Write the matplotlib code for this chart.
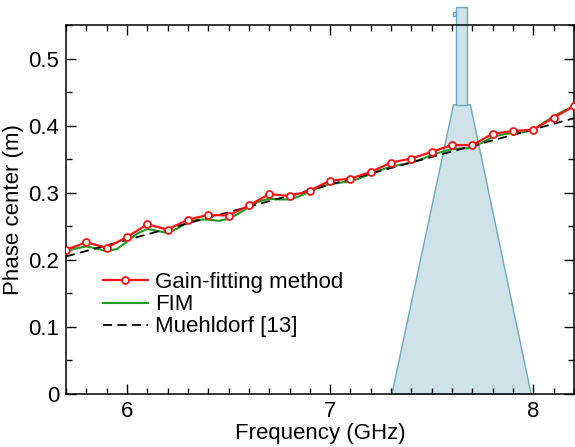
import matplotlib
matplotlib.use("Agg")
import matplotlib.pyplot as plt
from matplotlib.patches import Polygon
from matplotlib.ticker import MultipleLocator, FixedLocator

plt.rcParams['font.family'] = ['Liberation Sans', 'DejaVu Sans']

# Gain-fitting method (sampled every 0.1 GHz)
gain_freq = [5.7, 5.8, 5.9, 6.0, 6.1, 6.2, 6.3, 6.4, 6.5, 6.6, 6.7, 6.8, 6.9,
             7.0, 7.1, 7.2, 7.3, 7.4, 7.5, 7.6, 7.7, 7.8, 7.9, 8.0, 8.1, 8.2]
gain_pc = [0.215, 0.226, 0.218, 0.234, 0.253, 0.245, 0.260, 0.267, 0.266,
           0.281, 0.298, 0.295, 0.303, 0.318, 0.321, 0.331, 0.345, 0.351,
           0.361, 0.371, 0.371, 0.388, 0.392, 0.394, 0.412, 0.429]

# FIM (dense sampling)
fim_freq = [5.70, 5.75, 5.80, 5.85, 5.90, 5.95, 6.00, 6.05, 6.10, 6.15, 6.20,
            6.25, 6.30, 6.35, 6.40, 6.45, 6.50, 6.55, 6.60, 6.65, 6.70, 6.75,
            6.80, 6.85, 6.90, 6.95, 7.00, 7.05, 7.10, 7.15, 7.20, 7.25, 7.30,
            7.35, 7.40, 7.45, 7.50, 7.55, 7.60, 7.65, 7.70, 7.75, 7.80, 7.85,
            7.90, 7.95, 8.00, 8.05, 8.10, 8.15, 8.20]
fim_pc = [0.213, 0.217, 0.220, 0.217, 0.213, 0.216, 0.227, 0.239, 0.246,
          0.243, 0.240, 0.247, 0.256, 0.260, 0.260, 0.258, 0.261, 0.269,
          0.279, 0.287, 0.291, 0.290, 0.290, 0.295, 0.302, 0.308, 0.313,
          0.315, 0.317, 0.322, 0.328, 0.334, 0.339, 0.342, 0.345, 0.350,
          0.356, 0.361, 0.365, 0.366, 0.367, 0.375, 0.383, 0.387, 0.389,
          0.390, 0.394, 0.404, 0.414, 0.422, 0.429]

# Muehldorf [13]
mu_freq = [5.7, 8.2]
mu_pc = [0.205, 0.411]

x_ticks = [6, 7, 8]
x_ticklabels = ['6', '7', '8']
y_ticks = [0, 0.1, 0.2, 0.3, 0.4, 0.5]
y_ticklabels = ['0', '0.1', '0.2', '0.3', '0.4', '0.5']

# Horn antenna outline (frequency, phase-center coordinates)
horn_x = [7.304, 7.607, 7.690, 7.989]
horn_y = [0.0, 0.431, 0.431, 0.0]
guide_x = [7.621, 7.621, 7.675, 7.675]
guide_y = [0.431, 0.577, 0.577, 0.431]
flange_x = [7.606, 7.606, 7.621, 7.621]
flange_y = [0.563, 0.570, 0.570, 0.563]

fig = plt.figure(figsize=(5.75, 4.47), dpi=100)
ax = fig.add_axes([66 / 575, 1 - 394 / 447, 508 / 575, 369 / 447])

fill_c = '#cfe2ea'
edge_c = '#6aaac0'
for px, py in ((horn_x, horn_y), (guide_x, guide_y), (flange_x, flange_y)):
    ax.add_patch(Polygon(list(zip(px, py)), closed=True, facecolor=fill_c,
                         edgecolor=edge_c, lw=1.0, clip_on=False, zorder=1))

ax.plot(gain_freq, gain_pc, color='#ff1010', lw=1.6, marker='o', ms=5,
        mfc='white', mec='#ff1010', mew=1.3, label='Gain-fitting method', zorder=4)
ax.plot(fim_freq, fim_pc, color='#1e9a1e', lw=1.5, label='FIM', zorder=3)
ax.plot(mu_freq, mu_pc, color='black', lw=1.3, ls=(0, (5, 3)),
        label='Muehldorf [13]', zorder=3)

ax.set_xlim(5.7, 8.2)
ax.set_ylim(0, 0.55)
ax.xaxis.set_major_locator(FixedLocator(x_ticks))
ax.set_xticklabels(x_ticklabels)
ax.xaxis.set_minor_locator(MultipleLocator(0.1))
ax.yaxis.set_major_locator(FixedLocator(y_ticks))
ax.set_yticklabels(y_ticklabels)
ax.yaxis.set_minor_locator(MultipleLocator(0.05))

ax.tick_params(which='both', direction='in', top=True, right=True,
               labelsize=16, width=1.0, pad=5)
ax.tick_params(which='major', length=7)
ax.tick_params(which='minor', length=4)
for s in ax.spines.values():
    s.set_linewidth(1.1)

ax.set_xlabel('Frequency (GHz)', fontsize=16, labelpad=1)
ax.set_ylabel('Phase center (m)', fontsize=16, labelpad=3)

leg = ax.legend(loc='upper left', bbox_to_anchor=(0.073, 0.33), frameon=False,
                fontsize=16, handlelength=2.0, handletextpad=0.35,
                labelspacing=0.05, borderaxespad=0, borderpad=0)

fig.savefig('out.png', dpi=100)
